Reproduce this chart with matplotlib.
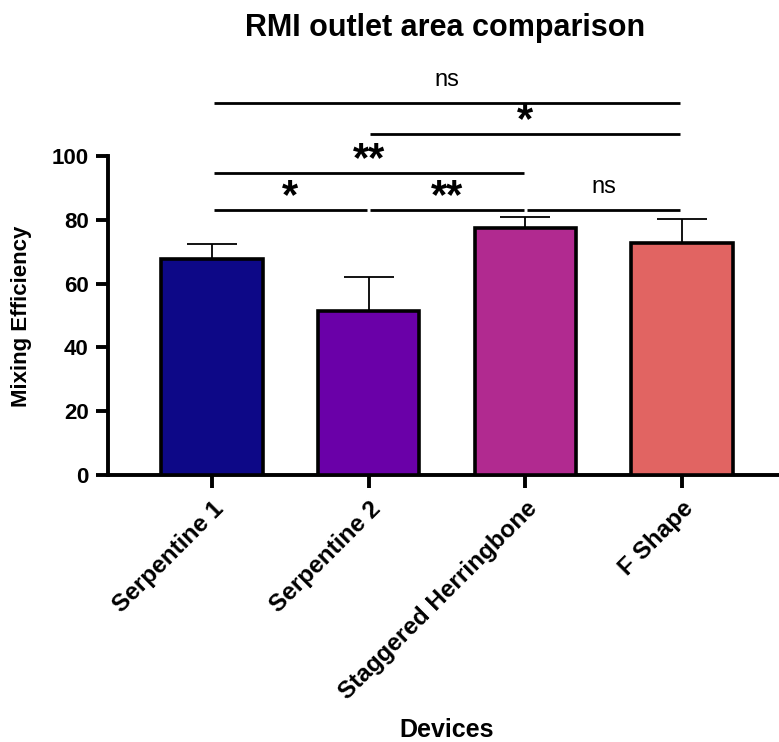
import matplotlib
matplotlib.use("Agg")
import matplotlib.pyplot as plt

plt.rcParams['font.family'] = ['Liberation Sans', 'DejaVu Sans']

# Data:
devices = ["Serpentine 1", "Serpentine 2", "Staggered Herringbone", "F Shape"]
means = [67.7, 51.4, 77.5, 72.8]
err_up = [4.7, 10.8, 3.3, 7.4]
bar_colors = ["#0D0887", "#6A00A8", "#B12A90", "#E16462"]

# Multiple comparisons (index pairs), label and bracket height:
pairs = [(0, 1), (1, 2), (2, 3), (0, 2), (1, 3), (0, 3)]
sig = ["*", "**", "ns", "**", "*", "ns"]
sig_y = [83.1, 83.1, 83.1, 94.7, 106.9, 116.7]

fig = plt.figure(figsize=(7.79, 7.42), dpi=100)
ax = fig.add_axes([108/779, 1-475/742, 678/779, 319/742])

x = list(range(len(devices)))
ax.bar(x, means, width=0.645, color=bar_colors, edgecolor="black",
	linewidth=2.6, zorder=3)
ax.errorbar(x, means, yerr=[[0]*len(err_up), err_up], fmt="none",
	ecolor="black", elinewidth=1.3, capsize=18, capthick=1.3, zorder=2)

ax.set_xlim(-0.664, 3.664)
ax.set_ylim(0, 100)
ax.set_yticks([0, 20, 40, 60, 80, 100])
ax.set_xticks(x)
ax.set_xticklabels(devices, rotation=45, ha="right", rotation_mode="anchor",
	fontsize=17.5, fontweight="bold")
for lab in ax.get_yticklabels():
	lab.set_fontsize(16)
	lab.set_fontweight("bold")
ax.tick_params(axis="both", width=2.8, length=9, pad=5)
ax.tick_params(axis="x", pad=7)
ax.spines['right'].set_visible(False)
ax.spines['top'].set_visible(False)
ax.spines['left'].set_linewidth(2.8)
ax.spines['bottom'].set_linewidth(2.8)

# Significance brackets:
for (i, j), s, y in zip(pairs, sig, sig_y):
	ax.plot([i + 0.01, j - 0.01], [y, y], color="black", lw=2,
		clip_on=False, solid_capstyle="butt")
	xm = (i + j) / 2
	if s == "ns":
		ax.text(xm, y + 5.4, s, ha="center", va="baseline", fontsize=17,
			clip_on=False)
	else:
		ax.text(xm, y + 0.6, s, ha="center", va="baseline", fontsize=30,
			fontweight="bold", clip_on=False)

# Titles:
fig.text(445/779, 1-36/742, "RMI outlet area comparison", ha="center",
	va="baseline", fontsize=22, fontweight="bold")
fig.text(22/779, 1-316/742, "Mixing Efficiency", rotation=90, ha="center",
	va="center", fontsize=16, fontweight="bold")
fig.text(447/779, 1-730/742, "Devices", ha="center", va="center",
	fontsize=18, fontweight="bold")

fig.savefig("out.png", dpi=100)
